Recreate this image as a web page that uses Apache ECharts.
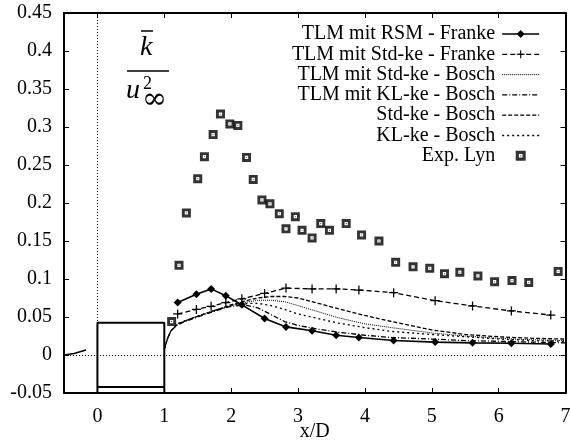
<!DOCTYPE html>
<html>
<head>
<meta charset="utf-8">
<script src="https://cdn.jsdelivr.net/npm/echarts@6/dist/echarts.min.js"></script>
<style>html,body{margin:0;padding:0;background:#fff;}#c{width:570px;height:444px;}</style>
</head>
<body>
<div id="c"></div>
<script>
// ---- data ----
var xTicks = [0, 1, 2, 3, 4, 5, 6, 7];
var franX = [1.20, 1.48, 1.70, 1.92, 2.16, 2.50, 2.82, 3.21, 3.57, 3.91, 4.43, 5.05, 5.61, 6.19, 6.78];
var rsmFranke = [0.069, 0.080, 0.087, 0.078, 0.066, 0.048, 0.037, 0.032, 0.026, 0.023, 0.019, 0.017, 0.016, 0.0154, 0.0145];
var stdFranke = [0.054, 0.060, 0.064, 0.069, 0.074, 0.081, 0.088, 0.087, 0.087, 0.0855, 0.082, 0.0715, 0.0645, 0.058, 0.0526];
var boschX = [1.0, 1.05, 1.1, 1.2, 1.4, 1.6, 1.8, 2.0, 2.2, 2.4, 2.6, 2.8, 3.0, 3.3, 3.6, 4.0, 4.4, 5.0, 5.5, 6.0, 6.5, 7.0];
var tlmStdBosch = [0.008, 0.022, 0.032, 0.041, 0.048, 0.054, 0.060, 0.065, 0.069, 0.072, 0.072, 0.070, 0.065, 0.057, 0.049, 0.041, 0.036, 0.029, 0.025, 0.022, 0.020, 0.019];
var tlmKlBosch = [0.008, 0.022, 0.032, 0.040, 0.047, 0.053, 0.059, 0.064, 0.066, 0.062, 0.053, 0.044, 0.039, 0.034, 0.030, 0.026, 0.023, 0.021, 0.019, 0.018, 0.017, 0.016];
var stdBosch = [0.008, 0.022, 0.032, 0.041, 0.048, 0.054, 0.060, 0.066, 0.071, 0.075, 0.077, 0.077, 0.075, 0.068, 0.061, 0.052, 0.044, 0.033, 0.027, 0.024, 0.022, 0.021];
var klBosch = [0.008, 0.022, 0.032, 0.041, 0.048, 0.054, 0.060, 0.065, 0.068, 0.068, 0.065, 0.060, 0.054, 0.048, 0.042, 0.036, 0.031, 0.027, 0.024, 0.021, 0.019, 0.018];
var expX = [1.11, 1.22, 1.33, 1.50, 1.60, 1.73, 1.84, 1.98, 2.10, 2.23, 2.33, 2.46, 2.58, 2.72, 2.82, 2.96, 3.06, 3.21, 3.34, 3.47, 3.72, 3.95, 4.21, 4.46, 4.72, 4.97, 5.19, 5.42, 5.69, 5.94, 6.20, 6.45, 6.89];
var expLyn = [0.044, 0.118, 0.187, 0.232, 0.261, 0.290, 0.317, 0.304, 0.302, 0.260, 0.231, 0.204, 0.199, 0.186, 0.166, 0.182, 0.164, 0.154, 0.173, 0.164, 0.173, 0.158, 0.150, 0.122, 0.116, 0.114, 0.107, 0.109, 0.104, 0.0965, 0.098, 0.0955, 0.110];
var upstreamX = [-0.5, -0.35, -0.17];
var upstreamY = [0.0, 0.002, 0.0066];
var boxX = [0, 0, 1, 1];
var boxY = [-0.05, 0.0425, 0.0425, -0.05];
var boxInnerX = [0, 1];
var boxInnerY = [-0.042, -0.042];
var names = ['TLM mit RSM - Franke', 'TLM mit Std-ke - Franke', 'TLM mit Std-ke - Bosch',
             'TLM mit KL-ke - Bosch', 'Std-ke - Bosch', 'KL-ke - Bosch', 'Exp. Lyn'];

function pairs(xs, ys) { return xs.map(function (x, i) { return [x, ys[i]]; }); }

var FONT = 'Liberation Serif';
var plusPath = 'path://M4.3,0H5.7V4.3H10V5.7H5.7V10H4.3V5.7H0V4.3H4.3Z';
var expPath = 'path://M0,0H10V10H0Z M3.2,3.2V6.8H6.8V3.2Z M4.5,4.5H5.5V5.5H4.5Z';

function lineSeries(name, xs, ys, dash, width, symbol, symSize) {
  return {
    name: name, type: 'line', data: pairs(xs, ys),
    showSymbol: !!symbol, symbol: symbol || 'circle', symbolSize: symSize || 0,
    lineStyle: { color: '#000', width: width, type: dash },
    itemStyle: { color: '#000' },
    z: 3
  };
}

var chart = echarts.init(document.getElementById('c'), null, { renderer: 'canvas' });
var axisCommon = {
  axisLine: { show: true, onZero: false, lineStyle: { color: '#000', width: 2 } },
  splitLine: { show: false }
};
chart.setOption({
  animation: false,
  backgroundColor: '#fff',
  grid: { left: 64, right: 4.5, top: 13, bottom: 51, outerBoundsMode: 'none', containLabel: false },
  xAxis: [
    Object.assign({
      type: 'value', min: -0.5, max: 7, position: 'bottom',
      axisTick: { show: true, inside: true, length: 5, customValues: xTicks, lineStyle: { color: '#000' } },
      axisLabel: { customValues: xTicks, fontFamily: FONT, fontSize: 20, color: '#000', margin: 14 },
      name: 'x/D', nameLocation: 'middle', nameGap: 29, nameMoveOverlap: false,
      nameTextStyle: { fontFamily: FONT, fontSize: 20, color: '#000' }
    }, axisCommon),
    Object.assign({
      type: 'value', min: -0.5, max: 7, position: 'top',
      axisTick: { show: true, inside: true, length: 5, customValues: xTicks, lineStyle: { color: '#000' } },
      axisLabel: { show: false }
    }, axisCommon)
  ],
  yAxis: [
    Object.assign({
      type: 'value', min: -0.05, max: 0.45, interval: 0.05, position: 'left',
      axisTick: { show: true, inside: true, length: 5, lineStyle: { color: '#000' } },
      axisLabel: { fontFamily: FONT, fontSize: 20, color: '#000', margin: 12,
        formatter: function (v) { return String(Math.round(v * 100) / 100); } }
    }, axisCommon),
    Object.assign({
      type: 'value', min: -0.05, max: 0.45, interval: 0.05, position: 'right',
      axisTick: { show: true, inside: true, length: 5, lineStyle: { color: '#000' } },
      axisLabel: { show: false }
    }, axisCommon)
  ],
  legend: {
    orient: 'vertical', right: 25, top: 19, align: 'right',
    itemWidth: 37, itemHeight: 10, itemGap: 0.3,
    textStyle: { fontFamily: FONT, fontSize: 20, color: '#000', lineHeight: 20, padding: [0, 2, 0, 0] },
    lineStyle: { width: 'inherit' },
    data: [
      { name: names[0] },
      { name: names[1] },
      { name: names[2], itemStyle: { opacity: 0 } },
      { name: names[3], itemStyle: { opacity: 0 } },
      { name: names[4], itemStyle: { opacity: 0 } },
      { name: names[5], itemStyle: { opacity: 0 } },
      { name: names[6] }
    ]
  },
  graphic: [
    { type: 'text', left: 140, top: 34, style: { text: 'k', font: 'italic 28px "Liberation Serif"', fill: '#000' } },
    { type: 'line', shape: { x1: 141, y1: 31, x2: 153, y2: 31 }, style: { stroke: '#000', lineWidth: 1.5 } },
    { type: 'line', shape: { x1: 127, y1: 71, x2: 169, y2: 71 }, style: { stroke: '#000', lineWidth: 1.5 } },
    { type: 'text', left: 126, top: 77, style: { text: 'u', font: 'italic 28px "Liberation Serif"', fill: '#000' } },
    { type: 'text', left: 143, top: 75, style: { text: '2', font: '18px "Liberation Serif"', fill: '#000' } },
    { type: 'text', left: 142, top: 85, style: { text: '\u221e', font: '30px "DejaVu Serif"', fill: '#000' } }
  ],
  series: [
    Object.assign(lineSeries(names[0], franX, rsmFranke, 'solid', 1.6, 'diamond', 8), { z: 5 }),
    lineSeries(names[1], franX, stdFranke, [5, 3], 1.3, plusPath, 9),
    lineSeries(names[2], boschX, tlmStdBosch, [1, 1], 1, null),
    lineSeries(names[3], boschX, tlmKlBosch, [5, 2, 1, 2], 1.3, null),
    lineSeries(names[4], boschX, stdBosch, [4, 2], 1.3, null),
    lineSeries(names[5], boschX, klBosch, [2, 3], 1.3, null),
    {
      name: names[6], type: 'scatter', data: pairs(expX, expLyn),
      symbol: expPath, symbolSize: 9, itemStyle: { color: '#000' }, z: 6
    },
    {
      name: 'upstream', type: 'line', data: pairs(upstreamX, upstreamY), showSymbol: false,
      lineStyle: { color: '#000', width: 1.5 }, z: 3
    },
    {
      name: 'box', type: 'line', data: pairs(boxX, boxY), showSymbol: false,
      lineStyle: { color: '#000', width: 2 }, z: 4,
      markLine: {
        silent: true, symbol: 'none', label: { show: false },
        lineStyle: { color: '#000', width: 1, type: [1, 2] },
        data: [{ yAxis: 0 }, { xAxis: 0 }]
      }
    },
    {
      name: 'boxInner', type: 'line', data: pairs(boxInnerX, boxInnerY), showSymbol: false,
      lineStyle: { color: '#000', width: 2 }, z: 4
    }
  ]
});
</script>
</body>
</html>
